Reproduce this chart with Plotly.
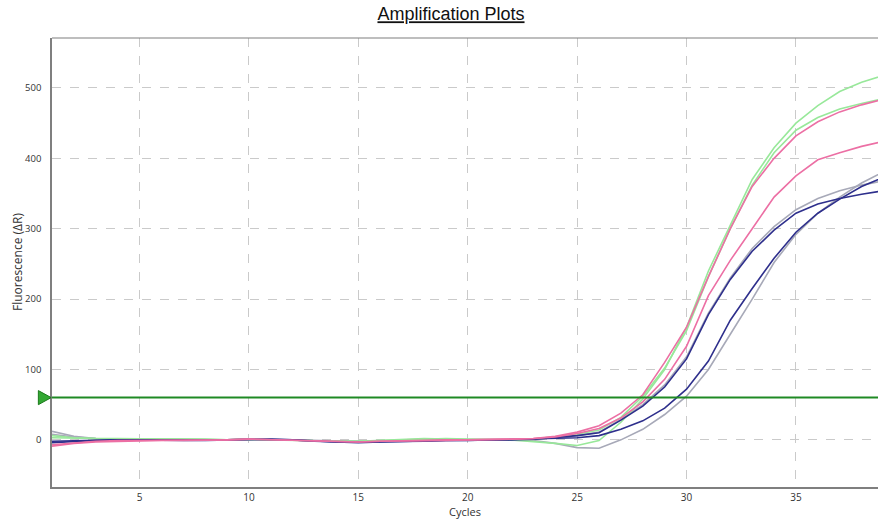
import plotly.graph_objects as go

cycles = list(range(1, 40))

green_a = [6,3,2,2,2,1,1,1,0,1,0,-1,-2,-2,-2,-1,1,2,1,0,0,0,-2,-5,-8,-1,25,58,100,160,240,305,370,415,450,475,495,508,518]
green_b = [3,2,2,2,1,1,1,0,0,1,0,-1,-2,-2,-2,-1,0,2,2,1,0,0,1,4,8,14,32,62,102,155,232,300,362,408,440,458,470,478,485]
pink_a = [-7,-4,-2,-1,-1,0,-1,-1,0,1,0,-1,-2,-3,-3,-2,-1,-1,0,0,0,1,2,5,11,20,38,64,110,160,232,300,360,400,432,452,466,476,484]
pink_b = [-9,-5,-3,-2,-1,-1,-1,-1,0,1,0,-1,-2,-3,-3,-2,-2,-1,-1,0,0,1,2,4,9,16,31,54,86,133,205,255,300,345,375,398,408,417,424]
navy_a = [-2,-1,0,0,0,-1,-1,-1,0,1,1,0,-2,-3,-3,-3,-2,-2,-1,-1,0,0,1,3,6,10,28,48,75,115,178,228,268,298,322,335,343,349,354]
gray_a = [12,5,2,1,1,0,0,0,1,1,1,0,-1,-2,-2,-2,-1,0,0,0,0,0,1,3,6,11,29,50,78,118,180,230,272,303,327,343,354,362,368]
navy_b = [-4,-2,-1,0,0,0,-1,-1,0,1,1,0,-2,-3,-4,-3,-2,-2,-1,-1,0,0,1,2,3,6,15,27,45,72,112,170,215,258,295,322,342,360,373]
gray_b = [8,4,2,1,1,0,0,0,0,1,0,0,-1,-2,-2,-2,-1,0,0,0,0,0,-1,-5,-11,-12,0,15,36,62,100,150,200,252,292,322,345,365,381]

threshold = 60
x_ticks = [5, 10, 15, 20, 25, 30, 35]
y_ticks = [0, 100, 200, 300, 400, 500]

GRAY = "#A7A9B8"
NAVY = "#2E2F8C"
GREEN = "#98E89A"
PINK = "#EC6FA4"

series = [
    (gray_a, GRAY), (gray_b, GRAY),
    (green_a, GREEN), (green_b, GREEN),
    (navy_a, NAVY), (navy_b, NAVY),
    (pink_a, PINK), (pink_b, PINK),
]

fig = go.Figure()
for vals, col in series:
    fig.add_trace(go.Scatter(x=cycles, y=vals, mode="lines",
                             line=dict(color=col, width=1.6),
                             showlegend=False, hoverinfo="skip"))

# threshold line
fig.add_hline(y=threshold, line=dict(color="#1F8A24", width=2))
# threshold handle (triangle left of the axis)
fig.add_shape(type="path", xref="paper", yref="y",
              path=f"M -0.0165,{threshold-10} L -0.001,{threshold} L -0.0165,{threshold+10} Z",
              fillcolor="#33A833", line=dict(color="#1B7A1B", width=1))

grid = dict(showgrid=True, gridcolor="#CACACA", griddash="dash", gridwidth=1, zeroline=False)

fig.update_layout(
    width=878, height=522,
    margin=dict(l=52, r=0, t=38, b=35),
    paper_bgcolor="white", plot_bgcolor="white",
    title=dict(text="Amplification Plots", x=451/878, xanchor="center", xref="container",
               y=1 - 14/522, yanchor="middle",
               font=dict(family="Liberation Sans", size=18, color="#111111", lineposition="under")),
)
fig.update_xaxes(range=[1, 38.75], tickvals=x_ticks, showline=True, linecolor="#7F7F7F",
                 linewidth=1.5, mirror=False, ticks="",
                 tickfont=dict(family="Open Sans", size=10, color="#333333"),
                 title=dict(text="Cycles", font=dict(family="Open Sans", size=11, color="#333333"), standoff=2),
                 **grid)
fig.update_yaxes(range=[-67, 571], tickvals=y_ticks, showline=True, linecolor="#7F7F7F",
                 linewidth=1.5, ticks="outside", ticklen=0, ticklabelstandoff=7,
                 tickfont=dict(family="Open Sans", size=9.5, color="#333333"), **grid)
fig.add_annotation(text="Fluorescence (ΔR)", textangle=-90, xref="paper", yref="paper",
                   x=(17 - 52) / 826, y=0.501, xanchor="center", yanchor="middle",
                   showarrow=False, font=dict(family="Open Sans", size=12, color="#333333"))
fig.add_shape(type="line", xref="paper", yref="paper", x0=0, x1=1, y0=1, y1=1,
              line=dict(color="#7F7F7F", width=1.2))

fig.write_html("out.html")
